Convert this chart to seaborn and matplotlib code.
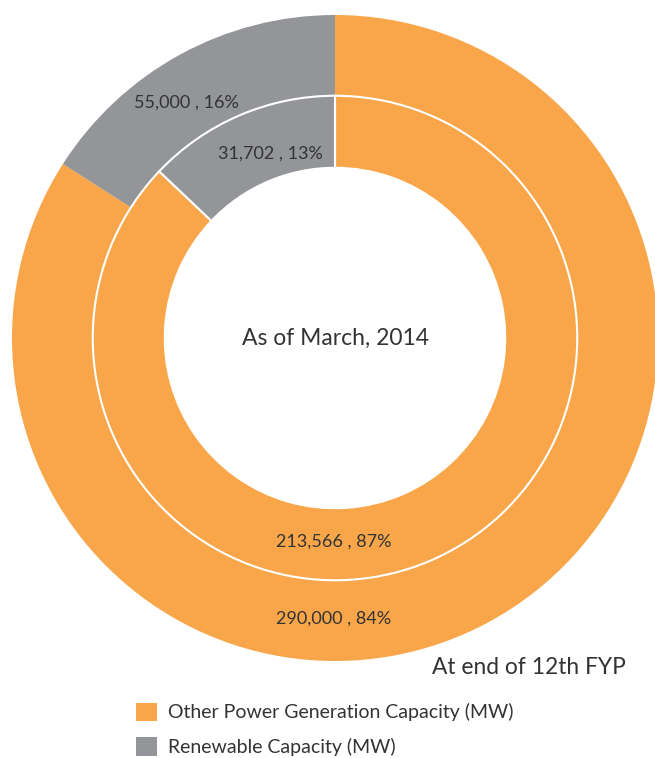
import matplotlib
matplotlib.use("Agg")
import matplotlib.pyplot as plt
import seaborn as sns
from matplotlib.patches import Patch

# capacity data (MW)
categories = ["Other Power Generation Capacity (MW)", "Renewable Capacity (MW)"]
outer_values = [290000, 55000]    # at end of 12th FYP
inner_values = [213566, 31702]    # as of March, 2014
outer_labels = ["290,000 , 84%", "55,000 , 16%"]
inner_labels = ["213,566 , 87%", "31,702 , 13%"]

sns.set_theme(style="white")
plt.rcParams["font.family"] = ["Lato", "DejaVu Sans"]
colors = ["#F8A649", "#939598"]
text_color = "#333333"

fig = plt.figure(figsize=(6.55, 7.58), dpi=100)
ax = fig.add_axes([12 / 655, 97 / 758, 646 / 655, 646 / 758])

# outer ring
ax.pie(outer_values, radius=1.0, colors=colors, startangle=90, counterclock=False,
       wedgeprops=dict(width=0.25, linewidth=0))
# inner ring
ax.pie(inner_values, radius=0.75, colors=colors, startangle=90, counterclock=False,
       wedgeprops=dict(width=0.223, edgecolor="white", linewidth=1.5))
ax.set_xlim(-1, 1)
ax.set_ylim(-1, 1)

lab_size = 13
ax.text(-0.005, -0.87, outer_labels[0], ha="center", va="center", fontsize=lab_size, color=text_color)
ax.text(-0.46, 0.73, outer_labels[1], ha="center", va="center", fontsize=lab_size, color=text_color)
ax.text(-0.005, -0.63, inner_labels[0], ha="center", va="center", fontsize=lab_size, color=text_color)
ax.text(-0.20, 0.57, inner_labels[1], ha="center", va="center", fontsize=lab_size, color=text_color)

ax.text(0, 0, "As of March, 2014", ha="center", va="center", fontsize=16.5, color=text_color)
fig.text(529 / 655, 1 - 667 / 758, "At end of 12th FYP", ha="center", va="center",
         fontsize=16.4, color=text_color)

handles = [Patch(facecolor=c, edgecolor="none") for c in colors]
fig.legend(handles, categories, loc="upper left", bbox_to_anchor=(118 / 655, 1 - 685 / 758),
           frameon=False, fontsize=14, handlelength=1.1, handleheight=1.1,
           labelspacing=0.8, handletextpad=0.55, labelcolor=text_color)

fig.savefig("out.png", dpi=100)
